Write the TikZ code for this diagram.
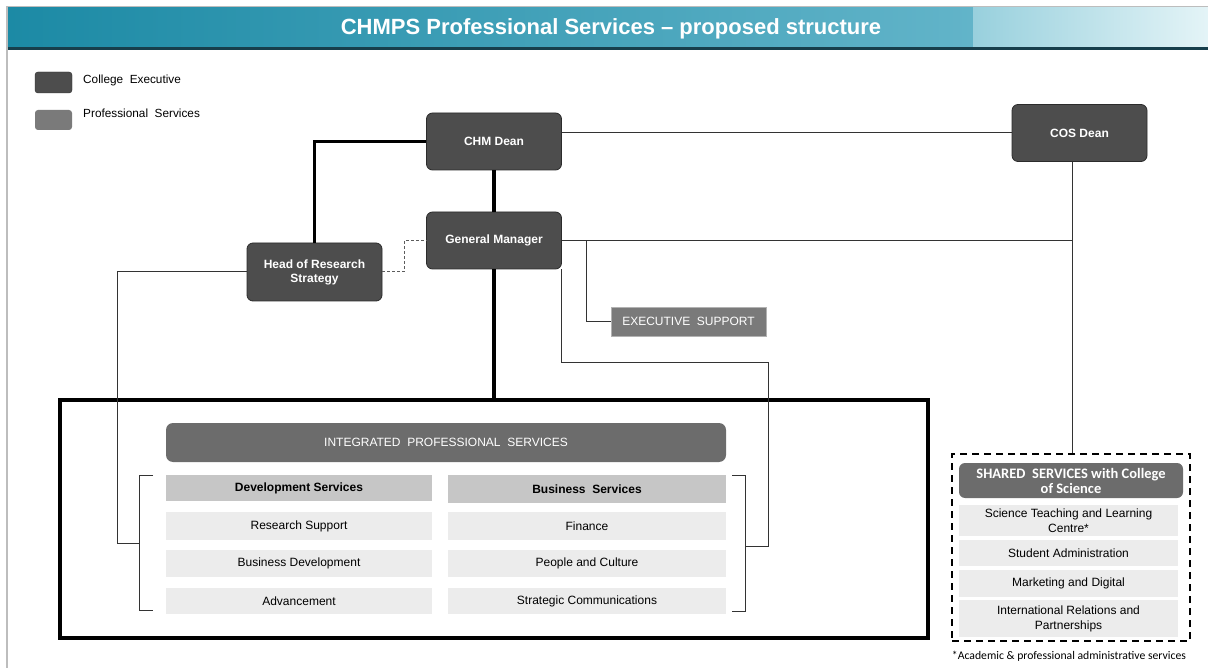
\documentclass[tikz,border=0pt]{standalone}
\usepackage{fontspec}
\setmainfont{Liberation Sans}
\newfontfamily\carlito{Carlito}
\definecolor{darkbox}{HTML}{4D4D4D}
\definecolor{darkedge}{HTML}{2B2B2B}
\definecolor{midbox}{HTML}{6C6C6C}
\definecolor{esbox}{HTML}{7A7A7A}
\definecolor{subhead}{HTML}{C6C6C6}
\definecolor{itemgray}{HTML}{ECECEC}
\definecolor{frame}{HTML}{BDBDBD}
\definecolor{tealA}{HTML}{1C8AA5}
\definecolor{tealB}{HTML}{62B4C9}
\definecolor{tealC}{HTML}{98D0DD}
\definecolor{tealD}{HTML}{E4F4F7}
\definecolor{tealLine}{HTML}{173F4C}
\definecolor{conn}{HTML}{333333}
\begin{document}
\begin{tikzpicture}[x=1pt,y=-1pt,
  execbox/.style={draw=darkedge, line width=0.8pt, fill=darkbox, rounded corners=6pt, text=white,
    font=\fontsize{12}{14}\selectfont\bfseries, align=center, inner sep=0pt,
    minimum width=135pt, minimum height=57pt},
  headbox/.style={fill=midbox, rounded corners=7pt, text=white, inner sep=0pt, align=center,
    font=\fontsize{12}{14}\selectfont},
  subbox/.style={fill=subhead, inner sep=0pt, font=\fontsize{12}{14}\selectfont\bfseries},
  itembox/.style={fill=itemgray, inner sep=0pt, align=center, font=\fontsize{12}{15}\selectfont},
  thickconn/.style={line width=3.5pt, black},
  thinconn/.style={line width=1pt, conn},
  dashconn/.style={line width=1pt, conn!80, dash pattern=on 3pt off 2pt},
  legtext/.style={anchor=west, inner sep=0pt, font=\fontsize{11.8}{14}\selectfont}
]
\useasboundingbox (0,0) rectangle (1208,668);
\fill[white] (0,0) rectangle (1208,668);

% frame and title bar
\draw[line width=2pt, frame] (7,668) -- (7,7) -- (1208,7);
\shade[left color=tealA, right color=tealB] (8,8) rectangle (973,48);
\shade[left color=tealC, right color=tealD] (973,8) rectangle (1208,48);
\draw[line width=2.5pt, tealLine] (8,48.5) -- (1208,48.5);
\node[text=white, font=\fontsize{22}{26}\selectfont\bfseries, inner sep=0pt] (title) at (611,29)
  {CHMPS Professional Services – proposed structure};

% legend
\node[fill=darkbox, draw=darkedge, rounded corners=3pt, minimum width=37pt, minimum height=21pt, inner sep=0pt] (legA) at (53.5,82.5) {};
\node[fill=esbox, rounded corners=3pt, minimum width=37pt, minimum height=20pt, inner sep=0pt] (legB) at (53.5,120) {};
\node[legtext] (legAt) at (83,80) {College\ \ Executive};
\node[legtext] (legBt) at (83,113) {Professional\ \ Services};

% executive nodes
\node[execbox] (CHM) at (494,141.5) {CHM Dean};
\node[execbox] (GM) at (494,240.5) {General Manager};
\node[execbox, minimum width=135pt, minimum height=58pt] (HRS) at (314.5,272) {Head of Research\\Strategy};
\node[execbox] (COS) at (1079.5,133) {COS Dean};

\node[fill=esbox, draw=gray!60, line width=0.5pt, text=white, inner sep=0pt, minimum width=155pt, minimum height=29pt,
  font=\fontsize{12}{14}\selectfont] (ES) at (688.5,321.5) {EXECUTIVE\ \ SUPPORT};

% integrated professional services box
\node[draw=black, line width=3.5pt, minimum width=868pt, minimum height=238pt, inner sep=0pt] (IPS) at (494,519) {};
\node[headbox, minimum width=560pt, minimum height=39pt] (IPSh) at (446,442.5) {INTEGRATED\ \ PROFESSIONAL\ \ SERVICES};
\node[subbox, minimum width=266pt, minimum height=26pt] (DS) at (299,488) {Development Services};
\node[subbox, minimum width=278pt, minimum height=28pt] (BS) at (587,489) {Business\ \ Services};
\node[itembox, minimum width=266pt, minimum height=28pt] (RS) at (299,526) {Research Support};
\node[itembox, minimum width=266pt, minimum height=27pt] (BD) at (299,563.5) {Business Development};
\node[itembox, minimum width=266pt, minimum height=26pt] (AD) at (299,601) {Advancement};
\node[itembox, minimum width=278pt, minimum height=28pt] (FI) at (587,526) {Finance};
\node[itembox, minimum width=278pt, minimum height=27pt] (PC) at (587,563.5) {People and Culture};
\node[itembox, minimum width=278pt, minimum height=26pt] (SC) at (587,601) {Strategic Communications};

% brackets
\draw[thinconn, line width=0.9pt] (153,475) -- (139,475) -- (139,610) -- (153,610);
\draw[thinconn, line width=0.9pt] (732,475) -- (745,475) -- (745,611) -- (732,611);
\coordinate (lbm) at (139,543);
\coordinate (rbm) at (745,546);

% shared services
\node[draw=black, line width=2pt, dash pattern=on 7pt off 5pt, minimum width=238pt, minimum height=187pt, inner sep=0pt] (SS) at (1071,547.5) {};
\node[headbox, rounded corners=6pt, minimum width=224pt, minimum height=35pt, font=\carlito\fontsize{14.5}{15}\selectfont\bfseries] (SSh) at (1071,480.5) {SHARED\ \ SERVICES with College\\of Science};
\node[itembox, minimum width=219pt, minimum height=31pt] (S1) at (1068.5,520.5) {Science Teaching and Learning\\Centre*};
\node[itembox, minimum width=219pt, minimum height=26pt] (S2) at (1068.5,553) {Student Administration};
\node[itembox, minimum width=219pt, minimum height=27pt] (S3) at (1068.5,583.5) {Marketing and Digital};
\node[itembox, minimum width=219pt, minimum height=37pt] (S4) at (1068.5,618.5) {International Relations and\\Partnerships};
\node[inner sep=0pt, font=\carlito\fontsize{11.7}{13}\selectfont] (fn) at (1069,656) {*Academic \& professional administrative services};

% connectors
\draw[thickconn] (HRS.north) |- (CHM.west);
\draw[thickconn] (CHM.south) -- (GM.north);
\draw[thickconn] (GM.south) -- (GM.south |- IPS.north);

\draw[thinconn] (CHM.east |- COS.west) -- (COS.west);
\coordinate (cv) at (1072,162);
\draw[thinconn] (cv) -- (cv |- SS.north);
\draw[thinconn] (GM.east) -- (GM.east -| cv);

\coordinate (j1) at (586,240.5);
\draw[thinconn] (j1) |- (ES.west);

\coordinate (r1) at (768,363);
\draw[thinconn] ([xshift=-0.5pt]GM.south east) |- (r1) |- (rbm);

\coordinate (l1) at (117,543);
\draw[thinconn] (HRS.west) -| (l1) -- (lbm);

\coordinate (d1) at (404,272);
\draw[dashconn] (HRS.east) -- (d1) |- (GM.west);
\end{tikzpicture}
\end{document}
